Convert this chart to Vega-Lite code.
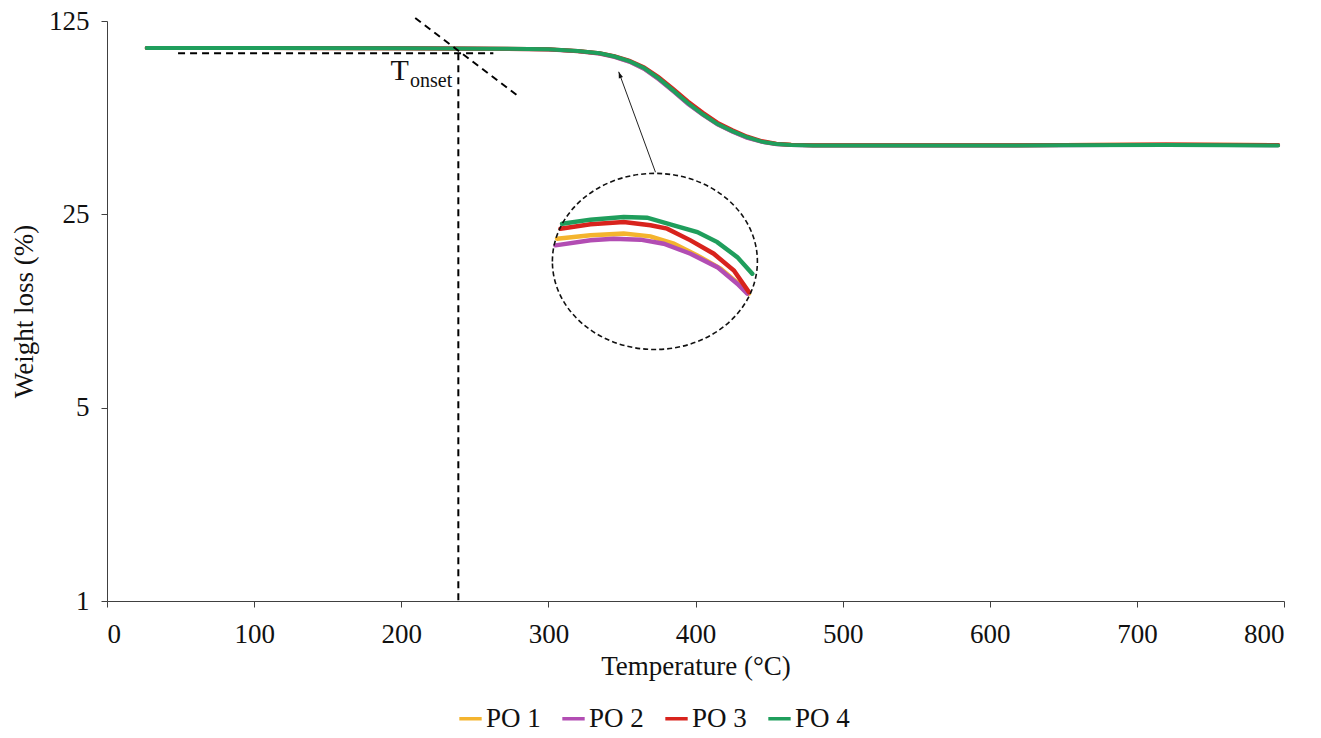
{
  "$schema": "https://vega.github.io/schema/vega-lite/v6.json",
  "width": 1177,
  "height": 580,
  "autosize": {"type": "none"},
  "padding": {"left": 107, "top": 21, "right": 37, "bottom": 137},
  "config": {
    "view": {"stroke": null},
    "font": "Liberation Serif",
    "axis": {
      "grid": false,
      "domainColor": "#404040",
      "tickColor": "#404040",
      "labelColor": "#111111",
      "titleColor": "#111111",
      "labelFont": "Liberation Serif",
      "titleFont": "Liberation Serif",
      "labelFontSize": 27,
      "titleFontSize": 27,
      "titleFontWeight": "normal",
      "tickSize": 6
    },
    "legend": {
      "labelFont": "Liberation Serif",
      "labelFontSize": 27,
      "labelColor": "#111111"
    }
  },
  "datasets": {
    "main": [
      {"s": "PO 1", "T": 27, "v": 99.8}, {"s": "PO 1", "T": 100, "v": 99.8}, {"s": "PO 1", "T": 200, "v": 99.7}, {"s": "PO 1", "T": 260, "v": 99.3}, {"s": "PO 1", "T": 300, "v": 98.7}, {"s": "PO 1", "T": 320, "v": 97.2}, {"s": "PO 1", "T": 335, "v": 95.3}, {"s": "PO 1", "T": 345, "v": 92.8}, {"s": "PO 1", "T": 355, "v": 89.2}, {"s": "PO 1", "T": 365, "v": 84.1}, {"s": "PO 1", "T": 375, "v": 77.1}, {"s": "PO 1", "T": 385, "v": 69.7}, {"s": "PO 1", "T": 395, "v": 62.8}, {"s": "PO 1", "T": 405, "v": 57.3}, {"s": "PO 1", "T": 415, "v": 52.9}, {"s": "PO 1", "T": 425, "v": 49.9}, {"s": "PO 1", "T": 435, "v": 47.4}, {"s": "PO 1", "T": 445, "v": 45.8}, {"s": "PO 1", "T": 455, "v": 44.9}, {"s": "PO 1", "T": 465, "v": 44.6}, {"s": "PO 1", "T": 480, "v": 44.4}, {"s": "PO 1", "T": 550, "v": 44.4}, {"s": "PO 1", "T": 650, "v": 44.5}, {"s": "PO 1", "T": 720, "v": 44.7}, {"s": "PO 1", "T": 760, "v": 44.6}, {"s": "PO 1", "T": 796, "v": 44.5},
      {"s": "PO 2", "T": 27, "v": 99.8}, {"s": "PO 2", "T": 100, "v": 99.8}, {"s": "PO 2", "T": 200, "v": 99.7}, {"s": "PO 2", "T": 260, "v": 99.3}, {"s": "PO 2", "T": 300, "v": 98.6}, {"s": "PO 2", "T": 320, "v": 97.1}, {"s": "PO 2", "T": 335, "v": 95.2}, {"s": "PO 2", "T": 345, "v": 92.6}, {"s": "PO 2", "T": 355, "v": 89.0}, {"s": "PO 2", "T": 365, "v": 83.9}, {"s": "PO 2", "T": 375, "v": 76.9}, {"s": "PO 2", "T": 385, "v": 69.5}, {"s": "PO 2", "T": 395, "v": 62.6}, {"s": "PO 2", "T": 405, "v": 57.2}, {"s": "PO 2", "T": 415, "v": 52.8}, {"s": "PO 2", "T": 425, "v": 49.8}, {"s": "PO 2", "T": 435, "v": 47.3}, {"s": "PO 2", "T": 445, "v": 45.7}, {"s": "PO 2", "T": 455, "v": 44.8}, {"s": "PO 2", "T": 465, "v": 44.5}, {"s": "PO 2", "T": 480, "v": 44.3}, {"s": "PO 2", "T": 550, "v": 44.3}, {"s": "PO 2", "T": 650, "v": 44.4}, {"s": "PO 2", "T": 720, "v": 44.6}, {"s": "PO 2", "T": 760, "v": 44.5}, {"s": "PO 2", "T": 796, "v": 44.4},
      {"s": "PO 3", "T": 27, "v": 99.8}, {"s": "PO 3", "T": 100, "v": 99.8}, {"s": "PO 3", "T": 200, "v": 99.7}, {"s": "PO 3", "T": 260, "v": 99.3}, {"s": "PO 3", "T": 300, "v": 98.8}, {"s": "PO 3", "T": 320, "v": 97.3}, {"s": "PO 3", "T": 335, "v": 95.6}, {"s": "PO 3", "T": 345, "v": 93.2}, {"s": "PO 3", "T": 355, "v": 89.9}, {"s": "PO 3", "T": 365, "v": 85.1}, {"s": "PO 3", "T": 375, "v": 78.3}, {"s": "PO 3", "T": 385, "v": 70.9}, {"s": "PO 3", "T": 395, "v": 63.9}, {"s": "PO 3", "T": 405, "v": 58.3}, {"s": "PO 3", "T": 415, "v": 53.6}, {"s": "PO 3", "T": 425, "v": 50.4}, {"s": "PO 3", "T": 435, "v": 47.8}, {"s": "PO 3", "T": 445, "v": 46.0}, {"s": "PO 3", "T": 455, "v": 45.0}, {"s": "PO 3", "T": 465, "v": 44.6}, {"s": "PO 3", "T": 480, "v": 44.4}, {"s": "PO 3", "T": 550, "v": 44.4}, {"s": "PO 3", "T": 650, "v": 44.5}, {"s": "PO 3", "T": 720, "v": 44.7}, {"s": "PO 3", "T": 760, "v": 44.6}, {"s": "PO 3", "T": 796, "v": 44.5},
      {"s": "PO 4", "T": 27, "v": 99.8}, {"s": "PO 4", "T": 100, "v": 99.8}, {"s": "PO 4", "T": 200, "v": 99.7}, {"s": "PO 4", "T": 260, "v": 99.3}, {"s": "PO 4", "T": 300, "v": 98.8}, {"s": "PO 4", "T": 320, "v": 97.3}, {"s": "PO 4", "T": 335, "v": 95.5}, {"s": "PO 4", "T": 345, "v": 93.0}, {"s": "PO 4", "T": 355, "v": 89.5}, {"s": "PO 4", "T": 365, "v": 84.5}, {"s": "PO 4", "T": 375, "v": 77.5}, {"s": "PO 4", "T": 385, "v": 70.0}, {"s": "PO 4", "T": 395, "v": 63.0}, {"s": "PO 4", "T": 405, "v": 57.5}, {"s": "PO 4", "T": 415, "v": 53.0}, {"s": "PO 4", "T": 425, "v": 50.0}, {"s": "PO 4", "T": 435, "v": 47.5}, {"s": "PO 4", "T": 445, "v": 45.8}, {"s": "PO 4", "T": 455, "v": 44.9}, {"s": "PO 4", "T": 465, "v": 44.5}, {"s": "PO 4", "T": 480, "v": 44.3}, {"s": "PO 4", "T": 550, "v": 44.3}, {"s": "PO 4", "T": 650, "v": 44.4}, {"s": "PO 4", "T": 720, "v": 44.5}, {"s": "PO 4", "T": 760, "v": 44.4}, {"s": "PO 4", "T": 796, "v": 44.3}
    ],
    "inset": [
      {"s": "PO 1", "T": 305.9, "v": 20.42}, {"s": "PO 1", "T": 328.6, "v": 20.99}, {"s": "PO 1", "T": 351.2, "v": 21.29}, {"s": "PO 1", "T": 369.4, "v": 20.81}, {"s": "PO 1", "T": 385.2, "v": 19.58}, {"s": "PO 1", "T": 401.2, "v": 17.76}, {"s": "PO 1", "T": 417.0, "v": 15.9}, {"s": "PO 1", "T": 430.6, "v": 13.83}, {"s": "PO 1", "T": 436.3, "v": 12.91},
      {"s": "PO 2", "T": 304.8, "v": 19.31}, {"s": "PO 2", "T": 328.6, "v": 20.13}, {"s": "PO 2", "T": 344.4, "v": 20.42}, {"s": "PO 2", "T": 362.6, "v": 20.25}, {"s": "PO 2", "T": 378.4, "v": 19.58}, {"s": "PO 2", "T": 396.6, "v": 18.01}, {"s": "PO 2", "T": 414.8, "v": 16.11}, {"s": "PO 2", "T": 428.4, "v": 14.03}, {"s": "PO 2", "T": 435.2, "v": 12.91},
      {"s": "PO 3", "T": 308.2, "v": 22.19}, {"s": "PO 3", "T": 328.6, "v": 23.0}, {"s": "PO 3", "T": 351.2, "v": 23.45}, {"s": "PO 3", "T": 369.4, "v": 22.81}, {"s": "PO 3", "T": 380.7, "v": 22.19}, {"s": "PO 3", "T": 396.6, "v": 20.13}, {"s": "PO 3", "T": 412.4, "v": 18.01}, {"s": "PO 3", "T": 426.1, "v": 15.67}, {"s": "PO 3", "T": 436.3, "v": 13.08},
      {"s": "PO 4", "T": 309.3, "v": 23.13}, {"s": "PO 4", "T": 328.6, "v": 23.92}, {"s": "PO 4", "T": 351.2, "v": 24.45}, {"s": "PO 4", "T": 367.1, "v": 24.32}, {"s": "PO 4", "T": 385.2, "v": 22.81}, {"s": "PO 4", "T": 401.2, "v": 21.57}, {"s": "PO 4", "T": 414.8, "v": 19.84}, {"s": "PO 4", "T": 428.4, "v": 17.51}, {"s": "PO 4", "T": 438.6, "v": 15.25}
    ],
    "dashes": [
      {"seg": "h", "T": 48.3, "v": 95.5}, {"seg": "h", "T": 262.6, "v": 95.5},
      {"seg": "vert", "T": 238.8, "v": 95.5}, {"seg": "vert", "T": 238.8, "v": 1},
      {"seg": "diag", "T": 209.5, "v": 128.2}, {"seg": "diag", "T": 278.7, "v": 67.4}
    ],
    "arrow": [
      {"T": 372.8, "v": 35.5}, {"T": 347.8, "v": 81.9}
    ],
    "head": [{"T": 347.8, "v": 81.9}],
    "circle": [{"T": 372.4, "v": 16.89}],
    "labelT": [{"T": 199.0, "v": 76.4, "t": "T"}],
    "labelOnset": [{"T": 206.0, "v": 72.3, "t": "onset"}]
  },
  "encoding": {
    "x": {
      "field": "T", "type": "quantitative",
      "scale": {"domain": [0, 800], "nice": false},
      "axis": {"title": "Temperature (°C)", "values": [0, 100, 200, 300, 400, 500, 600, 700, 800], "labelPadding": 14, "titlePadding": 6}
    },
    "y": {
      "field": "v", "type": "quantitative",
      "scale": {"type": "log", "base": 5, "domain": [1, 125], "nice": false},
      "axis": {"title": "Weight loss (%)", "values": [1, 5, 25, 125], "format": "d", "labelPadding": 12, "titlePadding": 10}
    }
  },
  "layer": [
    {
      "data": {"name": "main"},
      "mark": {"type": "line", "strokeWidth": 4, "strokeCap": "round", "clip": false},
      "encoding": {
        "color": {
          "field": "s", "type": "nominal",
          "scale": {"domain": ["PO 1", "PO 2", "PO 3", "PO 4"], "range": ["#F4B42E", "#B24DB3", "#D8231D", "#1F9E5C"]},
          "legend": {"title": null, "orient": "none", "legendX": 350, "legendY": 684, "direction": "horizontal", "symbolType": "stroke", "symbolStrokeWidth": 3.5, "symbolSize": 500, "columnPadding": 14, "labelOffset": 2}
        },
        "order": {"field": "s"}
      }
    },
    {
      "data": {"name": "inset"},
      "mark": {"type": "line", "strokeWidth": 4.5, "strokeCap": "round"},
      "encoding": {
        "color": {"field": "s", "type": "nominal"}
      }
    },
    {
      "data": {"name": "dashes"},
      "mark": {"type": "line", "color": "#000000", "strokeWidth": 2, "strokeDash": [7, 5], "clip": false},
      "encoding": {"detail": {"field": "seg"}}
    },
    {
      "data": {"name": "arrow"},
      "mark": {"type": "line", "color": "#222222", "strokeWidth": 1},
      "encoding": {}
    },
    {
      "data": {"name": "head"},
      "mark": {"type": "point", "shape": "M0,0L-0.55,1.6L0.55,1.6Z", "size": 64, "filled": true, "color": "#111111", "opacity": 1, "angle": 340},
      "encoding": {}
    },
    {
      "data": {"name": "circle"},
      "mark": {"type": "point", "shape": "M-1,0C-1,-0.474,-0.552,-0.859,0,-0.859C0.552,-0.859,1,-0.474,1,0C1,0.474,0.552,0.859,0,0.859C-0.552,0.859,-1,0.474,-1,0Z", "size": 42025, "filled": false, "stroke": "#111111", "strokeWidth": 1.6, "strokeDash": [5, 3], "opacity": 1},
      "encoding": {}
    },
    {
      "data": {"name": "labelT"},
      "mark": {"type": "text", "fontSize": 30, "font": "Liberation Serif", "align": "center", "baseline": "alphabetic", "color": "#111111"},
      "encoding": {"text": {"field": "t"}}
    },
    {
      "data": {"name": "labelOnset"},
      "mark": {"type": "text", "fontSize": 20, "font": "Liberation Serif", "align": "left", "baseline": "alphabetic", "color": "#111111"},
      "encoding": {"text": {"field": "t"}}
    }
  ]
}
